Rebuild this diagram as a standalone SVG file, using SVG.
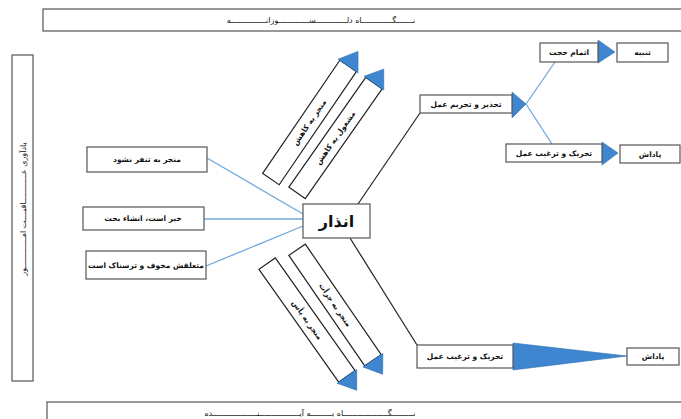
<svg xmlns="http://www.w3.org/2000/svg" width="681" height="419" viewBox="0 0 681 419">
<style>
.box{fill:#fff;stroke:#555;stroke-width:1.2}
.t{font-family:"DejaVu Sans",sans-serif;font-size:7.5px;font-weight:bold;fill:#111;text-anchor:middle;dominant-baseline:central}
.ban{font-family:"DejaVu Sans",sans-serif;font-size:8px;fill:#111;text-anchor:middle;dominant-baseline:central}
.blue{stroke:#6fa8dc;stroke-width:1.3;fill:none}
.blk{stroke:#222;stroke-width:1.2;fill:none}
.tri{fill:#3f86d0;stroke:#2f6fb0;stroke-width:0.6}
.arr{fill:#fff;stroke:#222;stroke-width:1.2}
</style>
<rect width="681" height="419" fill="#fff"/>
<g id="connectors">
<line class="blue" x1="207" y1="158" x2="303" y2="214"/>
<line class="blue" x1="204" y1="219" x2="303" y2="219"/>
<line class="blue" x1="206" y1="266" x2="303" y2="226"/>
<line class="blk" x1="358" y1="204" x2="420" y2="113"/>
<line class="blk" x1="350" y1="238" x2="417" y2="345"/>
<line class="blue" x1="526" y1="104" x2="555" y2="62"/>
<line class="blue" x1="526" y1="104" x2="552" y2="144"/>
<polygon class="tri" points="512,92 526,104 512,118"/>
<polygon class="tri" points="598,40 615,52 598,63"/>
<polygon class="tri" points="602,142 618,153 602,165"/>
<polygon class="tri" points="513,343 627,356 513,370"/>
</g>
<g id="banner-top">
<rect class="box" x="43" y="9" width="645" height="22"/>
<text class="ban" x="321" y="20">نـــــــگـــــــــــــاه دلـــــــــــــســـــــــــــوزانـــــــــــــــه</text>
</g>
<g id="banner-bottom">
<rect class="box" x="47" y="402" width="645" height="30"/>
<text class="ban" x="310" y="413">نـــــــــگـــــــــــــــــــاه بـــــــــه آیـــــــــــــــــنـــــــــــــــــــده</text>
</g>
<g id="banner-left">
<rect class="box" x="12" y="55" width="21" height="326"/>
<text class="ban" transform="translate(23,209) rotate(-90)">یادآوری عــــــــــــاقبــــت امـــــــــــــور</text>
</g>
<g id="n-monjar-tanaffor">
<rect class="box" x="87" y="147" width="120" height="25"/>
<text class="t" x="147" y="159.5">منجر به تنفر نشود</text>
</g>
<g id="n-kheir">
<rect class="box" x="83" y="207" width="121" height="23"/>
<text class="t" x="143" y="218.5">خیر است، انشاء بحث</text>
</g>
<g id="n-mota">
<rect class="box" x="86" y="251" width="120" height="28"/>
<text class="t" x="146" y="265">متعلقش مخوف و ترسناک است</text>
</g>
<g id="n-enzar">
<rect class="box" x="303" y="204" width="67" height="34"/>
<text class="t" x="336.5" y="221" style="font-size:16px">انذار</text>
</g>
<g id="d-up1" transform="translate(309.5,122.5) rotate(-55.7)">
<rect class="arr" x="-68.5" y="-10" width="137" height="20"/>
<polygon class="tri" points="68.5,-12 86,0 68.5,12"/>
<text class="t" x="0" y="0">منجر به کاهش</text>
</g>
<g id="d-up2" transform="translate(335.5,138) rotate(-55)">
<rect class="arr" x="-67" y="-10" width="134" height="20"/>
<polygon class="tri" points="67,-12 84,0 67,12"/>
<text class="t" x="0" y="0">مشغول به کاهش</text>
</g>
<g id="d-low1" transform="translate(307,320) rotate(54.7)">
<rect class="arr" x="-69" y="-10" width="138" height="20"/>
<polygon class="tri" points="69,-12 86,0 69,12"/>
<text class="t" x="0" y="0">منجر به یأس</text>
</g>
<g id="d-low2" transform="translate(335,305) rotate(55.5)">
<rect class="arr" x="-67" y="-10" width="134" height="20"/>
<polygon class="tri" points="67,-12 84,0 67,12"/>
<text class="t" x="0" y="0">منجر به جرأت</text>
</g>
<g id="n-tahzir">
<rect class="box" x="420" y="95" width="92" height="18"/>
<text class="t" x="466" y="104">تحذیر و تحریم عمل</text>
</g>
<g id="n-etmam">
<rect class="box" x="540" y="43" width="58" height="19"/>
<text class="t" x="569" y="52.5">اتمام حجت</text>
</g>
<g id="n-tanbih">
<rect class="box" x="617" y="43" width="51" height="19"/>
<text class="t" x="642.5" y="52.5">تنبیه</text>
</g>
<g id="n-tahrik1">
<rect class="box" x="506" y="144" width="96" height="18"/>
<text class="t" x="554" y="153">تحریک و ترغیب عمل</text>
</g>
<g id="n-padash1">
<rect class="box" x="620" y="145" width="60" height="18"/>
<text class="t" x="650" y="154">پاداش</text>
</g>
<g id="n-tahrik2">
<rect class="box" x="417" y="345" width="96" height="23"/>
<text class="t" x="465" y="356.5">تحریک و ترغیب عمل</text>
</g>
<g id="n-padash2">
<rect class="box" x="627" y="348" width="52" height="17"/>
<text class="t" x="653" y="356.5">پاداش</text>
</g>
</svg>
